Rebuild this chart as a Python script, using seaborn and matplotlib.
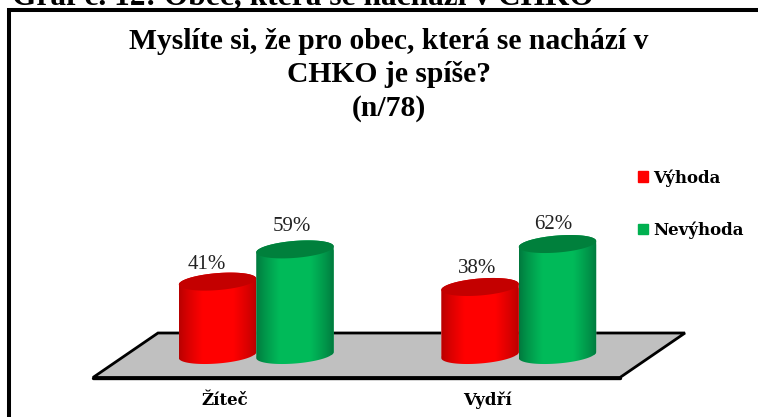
import matplotlib
matplotlib.use('Agg')
import matplotlib.pyplot as plt
import numpy as np
import pandas as pd
import seaborn as sn
from matplotlib.font_manager import FontProperties
from matplotlib.lines import Line2D
from matplotlib.patches import PathPatch, Polygon, Rectangle
from matplotlib.path import Path
from matplotlib.transforms import Affine2D, ScaledTranslation

categories = ['Žíteč', 'Vydří']
answers = ['Výhoda', 'Nevýhoda']
vyhoda = [41, 38]
nevyhoda = [59, 62]
label_texts = [['41%', '38%'], ['59%', '62%']]
title_text = 'Myslíte si, že pro obec, která se nachází v\nCHKO je spíše?\n(n/78)'
caption_text = 'Graf č. 12: Obec, která se nachází v CHKO'

W, H = 758, 417
SERIF = 'Liberation Serif'
WIDE = 'DejaVu Serif'

df = pd.DataFrame({
    'obec': categories * 2,
    'odpoved': [answers[0]] * 2 + [answers[1]] * 2,
    'procenta': vyhoda + nevyhoda,
})

sn.set_theme(style='white')
plt.rcParams['font.family'] = [SERIF, 'DejaVu Serif']

fig = plt.figure(figsize=(W / 100, H / 100), dpi=100, facecolor='white')
# pixel coords of the picture, y going down
px = Affine2D().scale(1, -1).translate(0, H)

# plot area: x=-0.5 at pixel 125, x=1.5 at 650, y=0 at pixel 355, 1.79 px per %
ax_h = 80 * 1.79
ax = fig.add_axes([125 / W, (H - 355 - 10 * 1.79) / H, 525 / W, ax_h / H])
sn.barplot(
    data=df, x='obec', y='procenta', hue='odpoved', order=categories,
    hue_order=answers, palette=['#FF0000', '#00B050'], width=0.59, gap=0,
    saturation=1, legend=False, ax=ax
)
ax.set_xlim(-0.5, 1.5)
ax.set_ylim(-10, 70)
ax.patch.set_alpha(0)
ax.set_xlabel('')
ax.set_ylabel('')
ax.set_yticks([])
sn.despine(ax=ax, left=True, bottom=True)

ax.tick_params(axis='x', length=0, pad=0)
shift = ScaledTranslation(-31.5 / 100, -19 / 100, fig.dpi_scale_trans)
for lab in ax.get_xticklabels():
    lab.set_fontfamily(WIDE)
    lab.set_fontweight('bold')
    lab.set_fontsize(12)
    lab.set_color('black')
    lab.set_transform(lab.get_transform() + shift)

# floor under the bars
fig.add_artist(Polygon(
    [(93, 377.5), (158, 333), (685, 333), (620, 377.5)], closed=True,
    facecolor='#C0C0C0', edgecolor='black', linewidth=2, transform=px,
    zorder=-1
))
fig.add_artist(Line2D([93, 620], [377.5, 377.5], color='black', linewidth=2.4,
                      transform=px, zorder=-0.5))

sy = 1.79
b = 8.5 / sy
tilt = 3 / sy
t = np.linspace(0, np.pi, 60)


def shade(rgb_edge, rgb_mid):
    pos = np.linspace(0, 1, 80)
    weight = np.clip(np.minimum(pos, 1 - pos) / 0.3, 0, 1) ** 0.8
    edge = np.array(rgb_edge)
    mid = np.array(rgb_mid)
    return (edge[None, :] + (mid - edge)[None, :] * weight[:, None])[None, :, :]


looks = [
    ((0.72, 0, 0), (1, 0, 0), '#C40000'),
    ((0, 0.47, 0.24), (0, 0.73, 0.35), '#00803C'),
]
z = 3
for i in range(len(categories)):
    for cont, look in zip(ax.containers, looks):
        bar = cont[i]
        x0 = bar.get_x()
        wid = bar.get_width()
        top = bar.get_height()
        cx = x0 + wid / 2
        a = wid / 2
        # upper half of the top ellipse, lower half of the bottom one
        xs = cx + a * np.cos(t)
        top_y = top + b * np.sin(t) + tilt * np.cos(t)
        bot_y = -b * np.sin(t) + tilt * np.cos(t)
        body = np.vstack([
            np.column_stack([xs, top_y]),
            np.column_stack([xs[::-1], bot_y[::-1]]),
        ])
        clip = PathPatch(Path(np.vstack([body, body[0]])), transform=ax.transData)
        bar.set_clip_path(clip)
        im = ax.imshow(
            shade(look[0], look[1]), aspect='auto', interpolation='bilinear',
            extent=(x0, x0 + wid, -b - tilt, top + b + tilt), zorder=z
        )
        im.set_clip_path(clip)
        lid_y = top - b * np.sin(t) + tilt * np.cos(t)
        lid = np.vstack([
            np.column_stack([xs, top_y]),
            np.column_stack([xs[::-1], lid_y[::-1]]),
        ])
        ax.add_patch(Polygon(
            lid, closed=True, facecolor=look[2], edgecolor='none',
            zorder=z + 0.5, clip_on=False
        ))
        z += 1
ax.set_xlim(-0.5, 1.5)
ax.set_ylim(-10, 70)

# data labels, pixel offsets from the middle of each cylinder top
offsets = [[(-11, 17.5), (-2.5, 18.5)], [(-3, 22.5), (-4.5, 19.5)]]
for cont, texts, offs in zip(ax.containers, label_texts, offsets):
    for bar, text, off in zip(cont, texts, offs):
        ax.annotate(
            text, (bar.get_x() + bar.get_width() / 2, bar.get_height()),
            xytext=(off[0] * 0.72, off[1] * 0.72), textcoords='offset points',
            ha='center', va='center', fontsize=15, color='#222222',
            annotation_clip=False, zorder=50
        )

handles = [Rectangle((0, 0), 1, 1, color=c) for c in ['#FF0000', '#00B050']]
leg = fig.legend(
    handles, answers, loc='center left',
    bbox_to_anchor=(638 / W, 1 - 204 / H), frameon=False, borderpad=0,
    borderaxespad=0, handlelength=0.6, handleheight=0.6,
    handletextpad=0.3, labelspacing=2.1,
    prop=FontProperties(family=WIDE, weight='bold', size=12)
)
for txt in leg.get_texts():
    txt.set_color('black')

fig.text(389, 75, title_text, transform=px, ha='center', va='center',
         fontsize=21.3, fontweight='bold', linespacing=1.28, color='black')
fig.text(12, 4, caption_text, transform=px, ha='left', va='baseline',
         fontsize=22.6, fontweight='bold', color='black')

# chart frame, only left and top show inside the picture
fig.add_artist(Line2D([9, 9, W], [H, 10, 10], color='black', linewidth=2.9,
                      solid_joinstyle='miter', transform=px, zorder=100))

fig.savefig('out.png', dpi=100)
